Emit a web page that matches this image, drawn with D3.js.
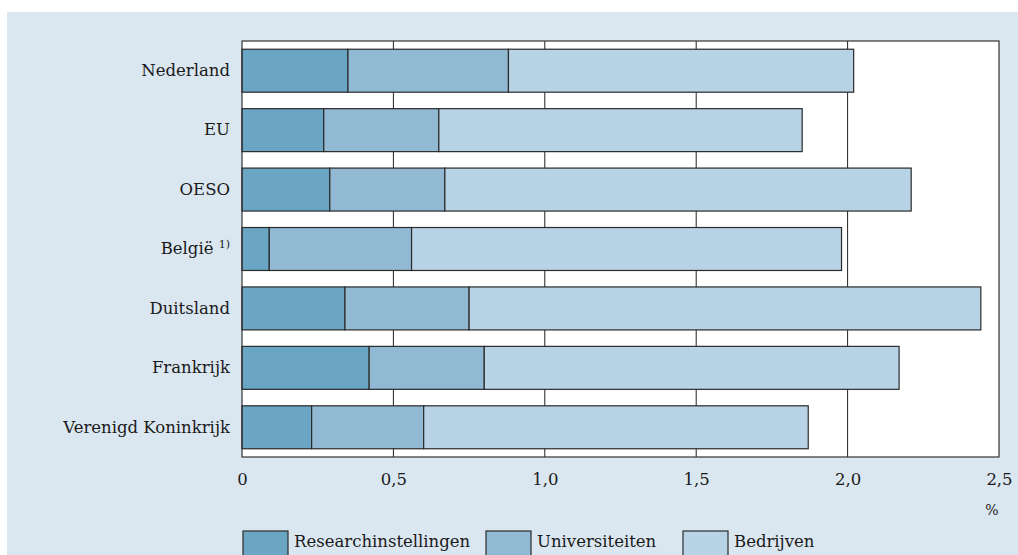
<!DOCTYPE html>
<html>
<head>
<meta charset="utf-8">
<script src="https://cdn.jsdelivr.net/npm/d3@7"></script>
<style>
  html, body { margin: 0; padding: 0; background: #ffffff; }
  svg { display: block; }
  text { font-family: "DejaVu Serif", "Liberation Serif", serif; fill: #1a1a1a; }
</style>
</head>
<body>
<svg id="chart" width="1018" height="555"></svg>
<script>
const categories = ["Nederland", "EU", "OESO", "België", "Duitsland", "Frankrijk", "Verenigd Koninkrijk"];
const seriesNames = ["Researchinstellingen", "Universiteiten", "Bedrijven"];
const researchinstellingen = [0.35, 0.27, 0.29, 0.09, 0.34, 0.42, 0.23];
const universiteiten      = [0.53, 0.38, 0.38, 0.47, 0.41, 0.38, 0.37];
const bedrijven           = [1.14, 1.20, 1.54, 1.42, 1.69, 1.37, 1.27];
const xTicks = [0, 0.5, 1.0, 1.5, 2.0, 2.5];
const xTickLabels = ["0", "0,5", "1,0", "1,5", "2,0", "2,5"];
const colors = ["#6aa5c4", "#92b9d3", "#b8d3e5"];

const svg = d3.select("#chart");
const W = 1018, H = 555;
const plot = { left: 242, right: 999, top: 41, bottom: 457 };
const FS = 16.5;

// panel background
svg.append("rect").attr("x", 7).attr("y", 12).attr("width", W - 7).attr("height", H - 12)
  .attr("fill", "#dbe7f0");

// plot background
svg.append("rect").attr("x", plot.left).attr("y", plot.top)
  .attr("width", plot.right - plot.left).attr("height", plot.bottom - plot.top)
  .attr("fill", "#ffffff");

const x = d3.scaleLinear().domain([0, 2.5]).range([plot.left, plot.right]);
const y = d3.scaleBand().domain(categories).range([plot.top, plot.bottom])
  .paddingInner(0.277).paddingOuter(0.1385);

// grid lines
svg.append("g").selectAll("line").data(xTicks.slice(1, -1)).join("line")
  .attr("x1", d => x(d)).attr("x2", d => x(d))
  .attr("y1", plot.top).attr("y2", plot.bottom)
  .attr("stroke", "#222").attr("stroke-width", 1);

// stacked data
const table = categories.map((c, i) => ({
  cat: c,
  Researchinstellingen: researchinstellingen[i],
  Universiteiten: universiteiten[i],
  Bedrijven: bedrijven[i]
}));
const stack = d3.stack().keys(seriesNames)(table);

svg.append("g").selectAll("g").data(stack).join("g")
  .attr("fill", (d, i) => colors[i])
  .selectAll("rect").data(d => d).join("rect")
  .attr("x", d => x(d[0]))
  .attr("y", d => y(d.data.cat))
  .attr("width", d => x(d[1]) - x(d[0]))
  .attr("height", y.bandwidth())
  .attr("stroke", "#2a2a2a")
  .attr("stroke-width", 1.2);

// frame
svg.append("rect").attr("x", plot.left).attr("y", plot.top)
  .attr("width", plot.right - plot.left).attr("height", plot.bottom - plot.top)
  .attr("fill", "none").attr("stroke", "#333").attr("stroke-width", 1.2);

// x axis labels
const xAxis = d3.axisBottom(x).tickValues(xTicks)
  .tickFormat((d, i) => xTickLabels[i]).tickSize(0).tickPadding(16);
const gx = svg.append("g").attr("transform", `translate(0,${plot.bottom})`).call(xAxis);
gx.select(".domain").remove();
gx.selectAll("text").attr("font-size", FS).attr("font-family", "DejaVu Serif, serif").attr("fill", "#1a1a1a");

// y axis labels
const yAxis = d3.axisLeft(y).tickSize(0).tickPadding(12);
const gy = svg.append("g").attr("transform", `translate(${plot.left},0)`).call(yAxis);
gy.select(".domain").remove();
gy.selectAll("text").attr("font-size", FS).attr("font-family", "DejaVu Serif, serif").attr("fill", "#1a1a1a")
  .each(function(d) {
    if (d === "België") {
      const t = d3.select(this);
      t.text("België ");
      t.append("tspan").attr("font-size", 11).attr("dy", -6).text("1)");
    }
  });

// percent unit
svg.append("text").attr("x", 992).attr("y", 515).attr("text-anchor", "middle")
  .attr("font-size", 14).text("%");

// legend
const legendX = [243, 486, 683];
const lg = svg.append("g").selectAll("g").data(seriesNames).join("g")
  .attr("transform", (d, i) => `translate(${legendX[i]},531)`);
lg.append("rect").attr("width", 45).attr("height", 26)
  .attr("fill", (d, i) => colors[i]).attr("stroke", "#2a2a2a").attr("stroke-width", 1.2);
lg.append("text").attr("x", 51).attr("y", 16).attr("font-size", FS).text(d => d);
</script>
</body>
</html>
